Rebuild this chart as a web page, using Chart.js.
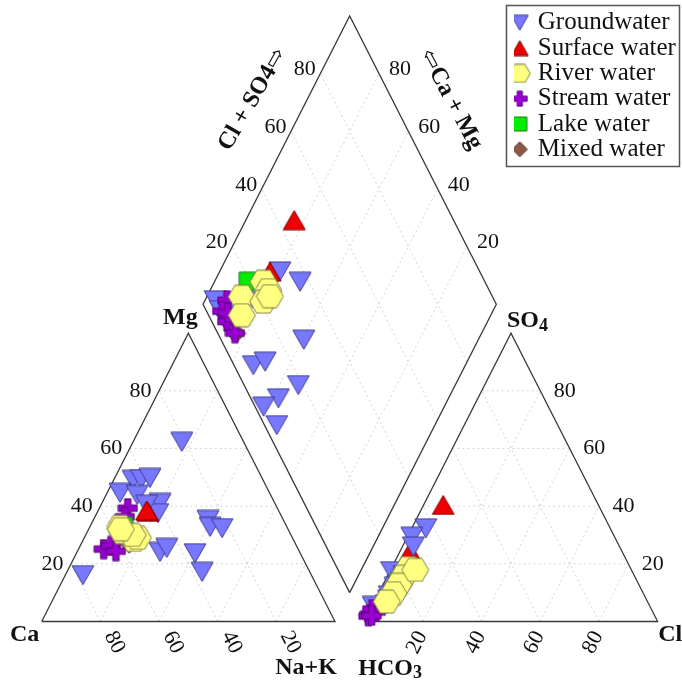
<!DOCTYPE html>
<html>
<head>
<meta charset="utf-8">
<title>Piper diagram</title>
<script src="https://cdn.jsdelivr.net/npm/chart.js@4.4.1/dist/chart.umd.min.js"></script>
<style>
  html, body { margin: 0; padding: 0; background: #fff; }
  #wrap { width: 682px; height: 686px; position: relative; }
</style>
</head>
<body>
<div id="wrap"><canvas id="piper"></canvas></div>
<script>
/* Piper diagram — water types. Values are % of meq/L. */

const seriesNames = ['Groundwater', 'Surface water', 'River water', 'Stream water', 'Lake water', 'Mixed water'];
const tickValues = [20, 40, 60, 80];

// ---- Cation triangle: [Mg, Na+K] (Ca = rest) ----
const groundwaterCations = [[62.3, 16.6], [49.1, 6.6], [49.4, 9.2], [49.8, 12.0], [44.6, 4.4], [43.9, 10.6],
  [41.1, 19.8], [37.6, 20.8], [40.5, 15.5], [35.2, 39.1], [32.8, 41.0], [32.4, 45.3], [24.1, 28.3],
  [25.5, 29.9], [23.7, 40.4], [17.2, 46.1], [16.1, 6.0]];
const surfaceCations = [[38.0, 17.2], [38.5, 16.5]];
const riverCations = [[32.8, 10.3], [28.3, 17.3], [29.0, 18.3], [31.0, 12.0], [30.0, 16.0], [32.0, 11.0]];
const streamCations = [[39.3, 9.7], [36.3, 10.2], [25.1, 8.6], [26.2, 10.5], [24.4, 13.1]];
const lakeCations = [[33.0, 11.4]];
const mixedCations = [[27.0, 16.3]];

// ---- Anion triangle: [SO4, Cl] (HCO3 = rest) ----
const groundwaterAnions = [[32.3, 4.8], [29.4, 1.5], [26.0, 3.7], [17.5, 0.5], [5.4, 0.3], [16.0, 5.5],
  [13.0, 5.0], [10.0, 5.0], [7.5, 4.5], [14.0, 6.5], [11.0, 6.0], [8.5, 5.5], [17.0, 7.0], [12.0, 4.5],
  [15.0, 6.0], [9.0, 4.0], [6.0, 4.5]];
const surfaceAnions = [[40.4, 6.7], [24.2, 3.5]];
const riverAnions = [[18.5, 5.8], [15.5, 5.5], [12.7, 5.3], [9.8, 5.0], [6.9, 4.2], [17.9, 8.4]];
const streamAnions = [[2.6, 0.6], [3.3, 2.3], [1.9, 0.4], [4.3, 0.5], [2.0, 1.5]];
const lakeAnions = [[14.0, 5.0]];
const mixedAnions = [[4.5, 1.8]];

// ---- Diamond: [Ca+Mg, Cl+SO4] ----
const groundwaterDiamond = [[79.5, 31.9], [70.8, 37.0], [59.5, 28.2], [72.3, 6.6], [68.9, 11.2], [53.5, 18.5],
  [58.0, 9.4], [61.6, 2.9], [53.9, 4.2], [96.6, 4.8], [93.2, 4.8], [89.8, 4.8], [85.6, 5.4], [84.0, 18.0],
  [86.0, 14.0], [82.0, 20.0], [88.0, 10.0]];
const surfaceDiamond = [[83.5, 45.7], [82.8, 28.5]];
const riverDiamond = [[88.1, 14.5], [84.9, 11.3], [83.3, 24.5], [80.2, 24.7], [79.9, 21.0], [78.6, 24.2]];
const streamDiamond = [[92.5, 8.9], [92.3, 5.3], [88.8, 5.2], [84.1, 5.9], [90.0, 7.0]];
const lakeDiamond = [[88.6, 19.4]];
const mixedDiamond = [[83.7, 6.3]];

const cationSets = [groundwaterCations, surfaceCations, riverCations, streamCations, lakeCations, mixedCations];
const anionSets = [groundwaterAnions, surfaceAnions, riverAnions, streamAnions, lakeAnions, mixedAnions];
const diamondSets = [groundwaterDiamond, surfaceDiamond, riverDiamond, streamDiamond, lakeDiamond, mixedDiamond];

// ---- Marker looks (z = draw order, low = on top; zAnion for the anion triangle) ----
const markerStyles = [
  { shape: 'down', fill: '#7878ff', stroke: '#3c3c8c', w: 22, h: 19, z: 5, zAnion: 5 },
  { shape: 'up', fill: '#ee0000', stroke: '#7a0000', w: 22, h: 19, z: 3, zAnion: 5.5 },
  { shape: 'hex', fill: '#ffff80', stroke: '#80804a', w: 27, h: 23, z: 1, zAnion: 1 },
  { shape: 'plus', fill: '#9a00d0', stroke: '#55007a', w: 19, h: 19, z: 4, zAnion: 4 },
  { shape: 'square', fill: '#00ee00', stroke: '#1f7a1f', w: 18, h: 18, z: 2, zAnion: 2 },
  { shape: 'diamond', fill: '#8b5a46', stroke: '#4f3326', w: 19, h: 19, z: 6, zAnion: 6 },
];

// ---- Piper geometry (plot units: side = 100) ----
const H = Math.sqrt(3) / 2;
const GAP = 10;
const BREAK = { x: NaN, y: NaN };

function cationXY([mg, nak]) { return { x: nak + mg / 2, y: mg * H }; }
function anionXY([so4, cl]) { return { x: 100 + GAP + cl + so4 / 2, y: so4 * H }; }
function diamondXY([camg, clso4]) { return { x: 100 + GAP / 2 + (clso4 - camg) / 2, y: (GAP + camg + clso4) * H }; }

function closed(pts) { return pts.concat([pts[0], BREAK]); }

const framePts = [
  ...closed([cationXY([0, 0]), cationXY([0, 100]), cationXY([100, 0])]),
  ...closed([anionXY([0, 0]), anionXY([0, 100]), anionXY([100, 0])]),
  ...closed([diamondXY([0, 0]), diamondXY([100, 0]), diamondXY([100, 100]), diamondXY([0, 100])]),
];

const gridPts = [];
tickValues.forEach(t => {
  gridPts.push(cationXY([t, 0]), cationXY([t, 100 - t]), BREAK);
  gridPts.push(cationXY([0, t]), cationXY([100 - t, t]), BREAK);
  gridPts.push(cationXY([0, 100 - t]), cationXY([100 - t, 0]), BREAK);
  gridPts.push(anionXY([t, 0]), anionXY([t, 100 - t]), BREAK);
  gridPts.push(anionXY([0, t]), anionXY([100 - t, t]), BREAK);
  gridPts.push(anionXY([0, 100 - t]), anionXY([100 - t, 0]), BREAK);
  gridPts.push(diamondXY([t, 0]), diamondXY([t, 100]), BREAK);
  gridPts.push(diamondXY([0, t]), diamondXY([100, t]), BREAK);
});

// ---- Marker images ----
function makeMarker(st, scale) {
  const w = Math.round(st.w * scale), h = Math.round(st.h * scale);
  const c = document.createElement('canvas');
  c.width = w + 2; c.height = h + 2;
  const g = c.getContext('2d');
  g.translate(1, 1);
  g.beginPath();
  if (st.shape === 'down') {
    g.moveTo(0, 0); g.lineTo(w, 0); g.lineTo(w / 2, h);
  } else if (st.shape === 'up') {
    g.moveTo(w / 2, 0); g.lineTo(w, h); g.lineTo(0, h);
  } else if (st.shape === 'hex') {
    g.moveTo(0, h / 2); g.lineTo(w * 0.25, 0); g.lineTo(w * 0.75, 0);
    g.lineTo(w, h / 2); g.lineTo(w * 0.75, h); g.lineTo(w * 0.25, h);
  } else if (st.shape === 'plus') {
    const a = w * 0.33, b = w * 0.67;
    g.moveTo(a, 0); g.lineTo(b, 0); g.lineTo(b, a); g.lineTo(w, a); g.lineTo(w, b); g.lineTo(b, b);
    g.lineTo(b, h); g.lineTo(a, h); g.lineTo(a, b); g.lineTo(0, b); g.lineTo(0, a); g.lineTo(a, a);
  } else if (st.shape === 'square') {
    g.rect(0, 0, w, h);
  } else {
    g.moveTo(w / 2, 0); g.lineTo(w, h / 2); g.lineTo(w / 2, h); g.lineTo(0, h / 2);
  }
  g.closePath();
  g.fillStyle = st.fill;
  g.fill();
  g.lineWidth = 1;
  g.strokeStyle = st.stroke;
  g.stroke();
  return c;
}
const plotIcons = markerStyles.map(s => makeMarker(s, 1));
const legendIcons = markerStyles.map(s => makeMarker(s, 0.78));

// ---- Datasets: cation + diamond points per series, anion points kept apart for layering ----
const datasets = [];
seriesNames.forEach((name, i) => {
  datasets.push({
    label: name,
    data: [...cationSets[i].map(cationXY), ...diamondSets[i].map(diamondXY)],
    pointStyle: plotIcons[i],
    pointRadius: 10,
    order: markerStyles[i].z,
  });
});
seriesNames.forEach((name, i) => {
  datasets.push({
    label: name + ' (anions)',
    data: anionSets[i].map(anionXY),
    pointStyle: plotIcons[i],
    pointRadius: 10,
    order: markerStyles[i].zAnion,
  });
});
datasets.push({
  label: 'frame', data: framePts, showLine: true, spanGaps: false, pointRadius: 0,
  borderColor: '#3a3a3a', borderWidth: 1.3, borderJoinStyle: 'miter', order: 20,
});
datasets.push({
  label: 'grid', data: gridPts, showLine: true, spanGaps: false, pointRadius: 0,
  borderColor: '#d4d4d4', borderWidth: 1, borderDash: [2, 3], order: 21,
});

// ---- Text: tick numbers, corner names ----
const SERIF = "'Liberation Serif', 'Times New Roman', 'DejaVu Serif', serif";
const TICK_FONT = '22px ' + SERIF;
const NAME_FONT = 'bold 24px ' + SERIF;
const SUB_FONT = 'bold 18px ' + SERIF;

function withSub(ctx, main, sub, x, y) {
  ctx.font = NAME_FONT;
  ctx.textAlign = 'left';
  ctx.fillText(main, x, y);
  const w = ctx.measureText(main).width;
  ctx.font = SUB_FONT;
  ctx.fillText(sub, x + w, y + 5);
}

function rotatedText(ctx, text, x, y, deg) {
  ctx.save();
  ctx.translate(x, y);
  ctx.rotate(deg * Math.PI / 180);
  ctx.fillText(text, 0, 0);
  ctx.restore();
}

const piperText = {
  id: 'piperText',
  afterDraw(chart) {
    const { ctx } = chart;
    const sx = chart.scales.x, sy = chart.scales.y;
    const px = p => [sx.getPixelForValue(p.x), sy.getPixelForValue(p.y)];
    ctx.save();
    ctx.fillStyle = '#111';
    ctx.textBaseline = 'middle';
    ctx.textAlign = 'center';
    ctx.font = TICK_FONT;
    tickValues.forEach(t => {
      let [x, y] = px(cationXY([t, 0]));
      ctx.fillText(String(t), x - 18.5, y);
      [x, y] = px(anionXY([t, 100 - t]));
      ctx.fillText(String(t), x + 24.5, y);
      [x, y] = px(diamondXY([100, t]));
      ctx.fillText(String(t), x - 15.5, y - 4);
      [x, y] = px(diamondXY([t, 100]));
      ctx.fillText(String(t), x + 21, y - 4);
      [x, y] = px(cationXY([0, 100 - t]));
      rotatedText(ctx, String(t), x + 14, y + 21, 63);
      [x, y] = px(anionXY([0, t]));
      rotatedText(ctx, String(t), x - 6, y + 21, -63);
    });

    // corner names
    ctx.font = NAME_FONT;
    let [x, y] = px(cationXY([100, 0]));
    ctx.fillText('Mg', x - 8, y - 15);
    [x, y] = px(cationXY([0, 0]));
    ctx.fillText('Ca', x - 17, y + 13.5);
    [x, y] = px(cationXY([0, 100]));
    ctx.fillText('Na+K', x - 29, y + 46.5);
    [x, y] = px(anionXY([0, 0]));
    withSub(ctx, 'HCO', '3', x - 6, y + 47);
    [x, y] = px(anionXY([100, 0]));
    withSub(ctx, 'SO', '4', x - 4, y - 12);
    [x, y] = px(anionXY([0, 100]));
    ctx.font = NAME_FONT;
    ctx.textAlign = 'left';
    ctx.fillText('Cl', x + 0.5, y + 13.5);

    // diamond axis names
    ctx.textAlign = 'center';
    ctx.font = NAME_FONT;
    [x, y] = px(diamondXY([100, 70]));
    rotatedText(ctx, 'Cl + SO4\u21E8', x - 53, y - 3, -60);
    [x, y] = px(diamondXY([70, 100]));
    rotatedText(ctx, '\u21E6Ca + Mg', x + 57, y - 3, 62);
    ctx.restore();
  },
};

// Legend sits in the top-right corner with a frame round it
const legendCorner = {
  id: 'legendCorner',
  beforeDraw(chart) {
    const lg = chart.legend;
    lg.left = 514; lg.top = 10; lg.right = 682; lg.bottom = 686;
  },
  afterDraw(chart) {
    const { ctx } = chart;
    ctx.save();
    ctx.strokeStyle = '#555';
    ctx.lineWidth = 1.5;
    ctx.strokeRect(506.5, 5.5, 173, 161);
    ctx.restore();
  },
};

new Chart(document.getElementById('piper'), {
  type: 'scatter',
  data: { datasets },
  options: {
    responsive: true,
    maintainAspectRatio: false,
    animation: false,
    events: [],
    layout: { padding: 0, autoPadding: false },
    scales: {
      x: { type: 'linear', min: -14.22, max: 218.3, display: false, bounds: 'data' },
      y: { type: 'linear', min: -19.37, max: 186.64, display: false, bounds: 'data' },
    },
    plugins: {
      tooltip: { enabled: false },
      legend: {
        position: 'chartArea',
        align: 'start',
        labels: {
          usePointStyle: true,
          pointStyleWidth: 11,
          padding: 0.3,
          color: '#111',
          font: { family: SERIF, size: 25 },
          generateLabels(chart) {
            const base = Chart.defaults.plugins.legend.labels.generateLabels(chart);
            return base
              .filter(it => seriesNames.includes(it.text))
              .sort((a, b) => seriesNames.indexOf(a.text) - seriesNames.indexOf(b.text))
              .map(it => ({ ...it, pointStyle: legendIcons[seriesNames.indexOf(it.text)] }));
          },
        },
      },
    },
  },
  plugins: [piperText, legendCorner],
});
</script>
</body>
</html>
